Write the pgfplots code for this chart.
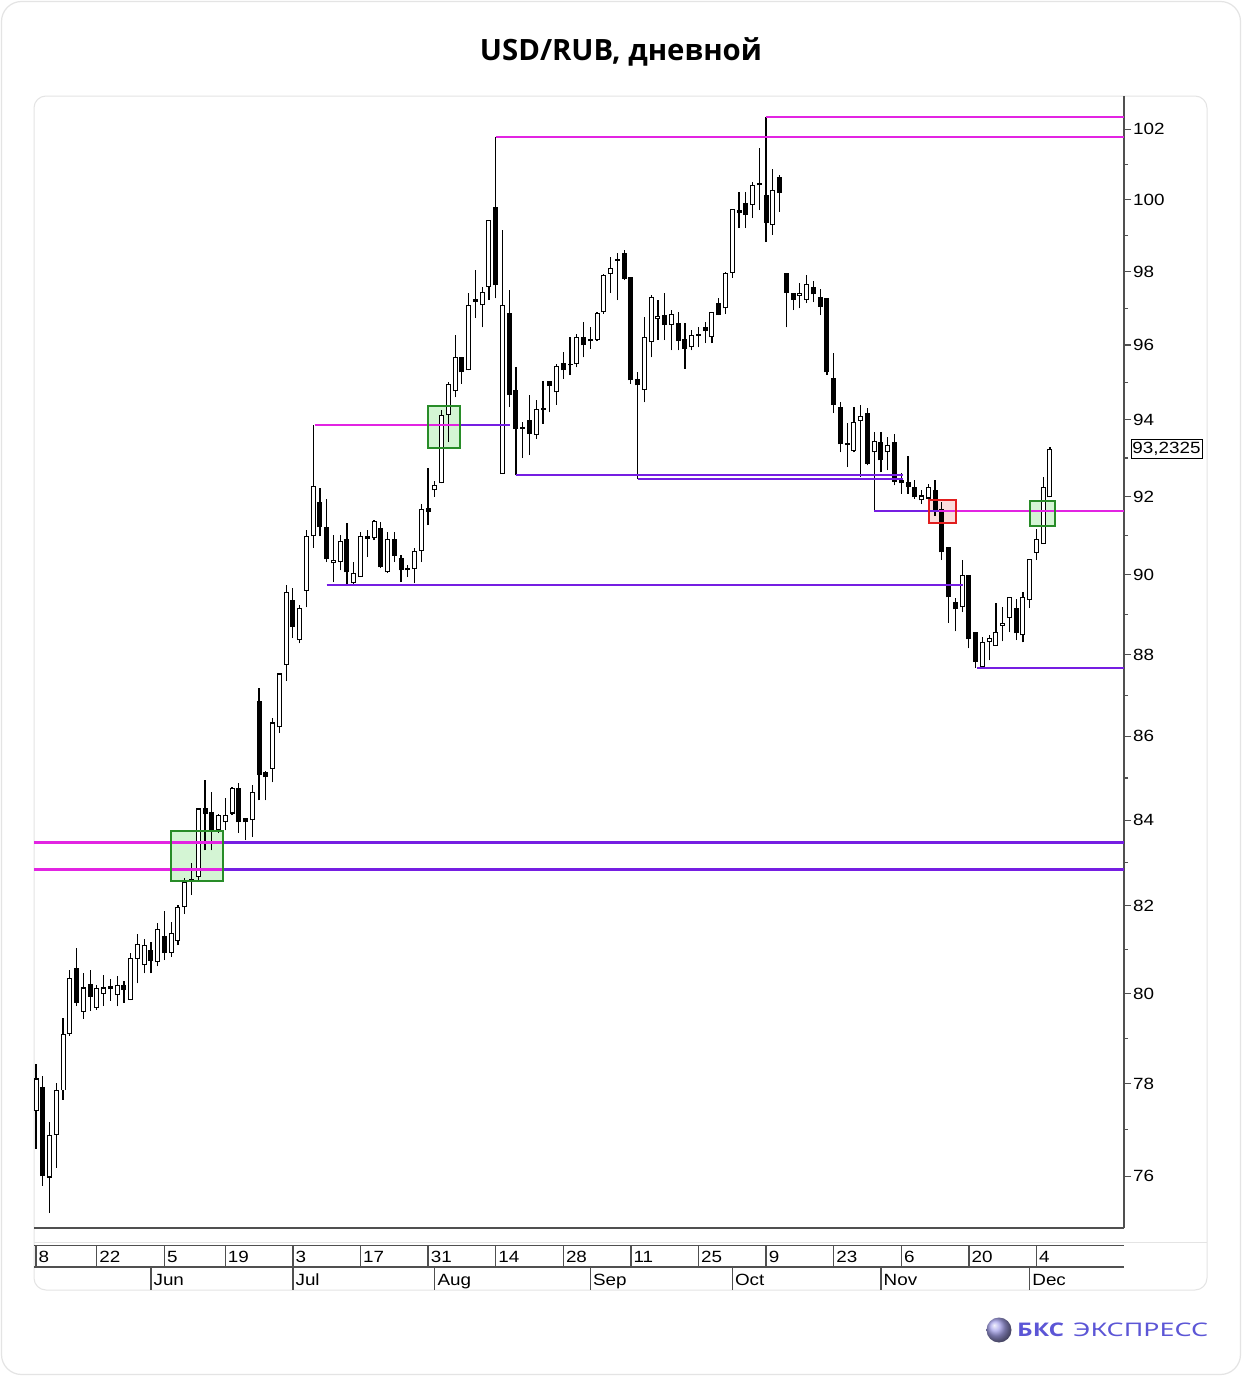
\documentclass[border=0pt]{standalone}
\usepackage{fontspec}
\usepackage{graphicx}
\usepackage{pgfplots}
\usepackage{pgfplotstable}
\pgfplotsset{compat=1.18}
\setmainfont{Liberation Sans}
\newfontfamily\titlefont{Open Sans}
\newfontfamily\logofont{Noto Sans}
\definecolor{cardc}{RGB}{228,228,228}
\definecolor{axisc}{RGB}{80,80,80}
\definecolor{magL}{RGB}{226,36,226}
\definecolor{purL}{RGB}{118,30,226}
\definecolor{gborder}{RGB}{40,140,40}
\definecolor{gfill}{RGB}{212,245,212}
\definecolor{rborder}{RGB}{225,30,30}
\definecolor{rfill}{RGB}{250,220,220}
\definecolor{logoc}{RGB}{92,86,214}
\newcommand{\sx}[1]{\scalebox{1.16}[1]{#1}}
\newcommand{\lblfont}{\fontsize{16.3}{18}\selectfont}

\pgfplotstableread{
i O H L C
0 77.42 78.45 76.60 78.14
2 75.98 77.17 75.22 76.88
3 76.90 78.03 76.19 77.88
4 77.86 79.47 77.66 79.11
5 79.11 80.53 79.07 80.35
7 79.61 80.48 79.45 80.14
9 79.70 80.20 79.65 80.12
10 80.00 80.43 79.74 80.14
12 79.98 80.39 79.72 80.19
14 79.87 80.92 79.87 80.80
15 80.78 81.35 80.23 81.12
16 80.65 81.24 80.46 81.10
18 80.71 81.60 80.62 81.46
20 80.92 81.62 80.83 81.37
21 81.19 82.02 81.10 81.97
22 81.97 82.65 81.81 82.55
24 82.67 84.30 82.60 84.28
27 83.76 84.15 83.70 84.12
28 83.95 84.54 83.76 84.12
29 84.16 84.78 84.12 84.76
32 84.00 84.83 83.60 84.66
35 85.22 86.46 84.90 86.34
36 86.22 87.54 86.08 87.54
37 87.74 89.73 87.35 89.56
39 88.36 89.23 88.28 89.16
40 89.59 91.13 89.18 90.98
41 90.98 93.87 90.68 92.27
44 90.29 91.01 89.81 90.37
45 90.32 91.01 90.11 90.86
47 89.78 90.32 89.73 90.04
48 89.94 91.08 89.94 90.98
50 90.93 91.39 90.88 91.36
52 90.06 91.08 90.04 90.91
56 90.14 90.68 89.78 90.60
57 90.60 91.82 90.32 91.69
59 92.16 92.40 92.00 92.29
60 92.34 94.26 92.34 94.13
61 94.13 95.00 93.42 94.97
62 94.76 96.27 94.60 95.67
64 95.32 97.41 95.32 97.08
66 97.08 97.58 96.48 97.44
67 97.58 99.44 97.22 99.44
69 92.58 99.16 92.58 97.08
74 93.60 94.52 93.50 94.29
75 94.26 95.03 93.90 94.29
77 94.73 95.50 94.40 95.43
80 95.48 96.30 95.40 96.21
83 96.13 96.90 96.10 96.86
84 96.89 97.95 96.85 97.91
85 97.94 98.41 97.41 98.10
90 94.79 96.75 94.47 96.21
91 96.08 97.36 95.67 97.30
92 96.70 97.22 96.13 96.78
94 96.54 96.95 95.86 96.84
97 95.94 96.40 95.86 96.27
100 96.21 96.89 96.05 96.89
102 97.00 98.00 96.84 97.97
103 97.97 99.74 97.83 99.74
106 99.85 100.50 99.49 100.41
109 99.29 100.87 99.02 100.27
113 97.33 97.69 97.00 97.41
114 97.22 97.91 97.14 97.66
121 93.18 94.34 93.15 93.95
122 93.97 94.39 92.50 94.10
124 93.15 93.68 91.62 93.44
126 93.15 93.55 92.68 93.34
131 91.90 92.16 91.82 92.03
132 91.95 92.32 91.90 92.26
137 89.18 90.37 89.06 89.99
140 87.69 88.43 87.69 88.31
141 88.31 88.48 87.86 88.41
142 88.21 89.28 88.21 88.56
143 88.71 89.18 88.33 88.78
144 88.91 89.43 88.56 89.43
146 88.48 89.56 88.31 89.43
147 89.36 90.39 89.16 90.39
148 90.55 91.16 90.37 90.91
149 90.78 92.50 90.78 92.26
150 91.98 93.29 91.98 93.23
}\upc

\pgfplotstableread{
i O H L C
1 77.95 78.19 75.81 76.00
6 80.57 81.03 79.74 79.81
8 80.21 80.53 79.63 79.94
11 80.17 80.34 79.85 80.10
13 80.19 80.28 79.81 80.08
17 80.99 81.17 80.46 80.74
19 81.30 81.88 80.76 80.92
23 82.62 83.00 82.25 82.58
25 84.28 84.95 83.29 84.14
26 84.19 84.66 83.29 83.76
30 84.76 84.88 83.71 83.95
31 84.05 84.05 83.53 83.95
33 86.86 87.17 84.47 85.07
34 85.14 85.17 84.47 85.02
38 89.36 89.66 88.41 88.69
42 91.87 92.21 90.98 91.21
43 91.21 91.95 90.32 90.39
46 90.91 91.31 89.73 90.06
49 90.98 91.13 90.45 90.91
51 91.18 91.34 90.17 90.19
53 90.91 91.08 90.32 90.47
54 90.42 90.50 89.81 90.11
55 90.16 90.24 89.94 90.11
58 91.70 92.73 91.26 91.60
63 95.67 95.67 94.97 95.27
65 97.25 98.05 96.73 97.17
68 99.79 101.78 97.27 97.63
70 96.86 97.49 94.34 94.66
71 94.81 95.40 92.55 93.76
72 93.80 93.95 93.00 93.76
73 94.00 94.66 93.08 93.63
76 95.03 95.03 94.20 94.90
78 95.51 95.81 95.10 95.32
79 95.50 96.21 95.19 95.45
81 96.21 96.62 95.67 95.99
82 96.16 96.50 95.90 96.10
86 98.35 98.52 97.22 98.30
87 98.52 98.60 97.77 97.80
88 97.86 97.86 94.97 95.05
89 95.08 95.27 92.45 94.92
93 96.81 97.41 96.13 96.54
95 96.59 96.89 95.86 96.10
96 96.16 96.59 95.37 95.89
98 96.30 96.48 95.94 96.25
99 96.48 96.62 96.05 96.37
101 97.14 97.27 96.81 96.81
104 99.71 100.21 99.21 99.63
105 99.90 100.21 99.21 99.57
107 100.44 101.46 99.71 100.41
108 100.13 102.35 98.82 99.35
110 100.64 100.70 99.66 100.19
111 97.97 97.97 96.48 97.41
112 97.41 97.41 96.95 97.22
115 97.58 97.74 97.16 97.38
116 97.30 97.52 96.81 97.03
117 97.27 97.27 95.19 95.27
118 95.13 95.78 94.18 94.39
119 94.34 94.47 93.15 93.36
120 93.39 93.92 92.76 93.34
123 94.18 94.31 92.81 92.84
125 93.42 93.68 92.63 92.94
127 93.42 93.63 92.29 92.39
128 92.42 92.60 92.08 92.34
129 92.39 93.05 92.08 92.24
130 92.26 92.42 91.95 91.98
133 92.16 92.42 91.50 91.64
134 91.69 91.85 90.37 90.57
135 90.70 90.70 88.79 89.43
136 89.31 89.41 88.58 89.13
138 89.99 89.99 88.16 88.38
139 88.56 88.56 87.67 87.82
145 89.16 89.38 88.36 88.53
}\dnc

\begin{document}
\begin{tikzpicture}
\useasboundingbox (0,0) rectangle (1242bp,-1376bp);
\begin{scope}[x=1bp,y=-1bp]
\fill[white] (0,0) rectangle (1242,1376);
\draw[cardc, line width=1.2bp, rounded corners=20bp] (1.5,1.5) rectangle (1240.5,1374.5);
\draw[cardc, line width=1bp, rounded corners=12bp] (34,96) rectangle (1207,1290);
\node[anchor=base, inner sep=0pt] at (621,61) {\resizebox{282bp}{!}{\titlefont\bfseries USD/RUB, дневной}};
% date strip
\draw[cardc, line width=1bp] (34,1242) -- (1207,1242);
\draw[axisc, line width=1.3bp] (34,1245.5) -- (1124,1245.5);
\draw[axisc, line width=1.3bp] (34,1267) -- (1124,1267);
\foreach \x/\t in {36/8, 96.8/22, 164.4/5, 225.3/19, 292.9/3, 360.5/17, 428.1/31, 495.7/14, 563.3/28, 630.9/11, 698.5/25, 766.1/9, 833.7/23, 901.3/6, 968.9/20, 1036.5/4}{
  \draw[axisc, line width=1.3bp] (\x,1245.5) -- (\x,1267);
  \node[anchor=base west, inner sep=0pt, font=\lblfont] at (\x+2.5,1262) {\sx{\t}};
}
\foreach \x/\t in {150.9/Jun, 292.9/Jul, 434.8/Aug, 590.3/Sep, 732.3/Oct, 881/Nov, 1029.7/Dec}{
  \draw[axisc, line width=1.3bp] (\x,1267) -- (\x,1290);
  \node[anchor=base west, inner sep=0pt, font=\lblfont] at (\x+2.5,1285.5) {\sx{\t}};
}
% logo
\shade[ball color=logoc!55!white] (999,1330) circle (12.5);
\node[anchor=base west, inner sep=0pt, text=logoc] at (1017,1336) {\resizebox{47bp}{13.6bp}{\titlefont\bfseries БКС}};
\node[anchor=base west, inner sep=0pt, text=logoc] at (1073,1336) {\resizebox{135bp}{13.6bp}{\logofont ЭКСПРЕСС}};
\end{scope}

\begin{axis}[
  at={(34bp,-96bp)}, anchor=north west,
  scale only axis, width=1090bp, height=1132bp,
  xmin=-0.3, xmax=160.95, ymin=4.316154, ymax=4.634341,
  y filter/.expression={ln(y)},
  axis x line*=bottom, axis y line*=right,
  axis line style={draw=axisc, line width=1.4bp},
  xtick=\empty,
  ytick={4.330733,4.356709,4.382027,4.406719,4.430817,4.454347,4.477337,4.499810,4.521789,4.543295,4.564348,4.584967,4.605170,4.624973},
  yticklabels={\sx{76},\sx{78},\sx{80},\sx{82},\sx{84},\sx{86},\sx{88},\sx{90},\sx{92},\sx{94},\sx{96},\sx{98},\sx{100},\sx{102}},
  minor ytick={4.343805,4.369448,4.394449,4.418841,4.442651,4.465908,4.488636,4.510860,4.532599,4.553877,4.574711,4.595120,4.615121},
  tick align=outside,
  major tick length=7bp, minor tick length=4bp,
  every tick/.style={draw=axisc, line width=1.1bp},
  yticklabel style={font=\lblfont, anchor=west, inner sep=0pt, xshift=2bp},
  clip=true,
]
% box fills
\addplot[draw=none, fill=gfill] coordinates {(19.97,83.74) (27.66,83.74) (27.66,82.57) (19.97,82.57) (19.97,83.74)};
\addplot[draw=none, fill=gfill] coordinates {(57.99,94.36) (62.72,94.36) (62.72,93.26) (57.99,93.26) (57.99,94.36)};
\addplot[draw=none, fill=gfill] coordinates {(147.04,91.88) (150.74,91.88) (150.74,91.23) (147.04,91.23) (147.04,91.88)};
\addplot[draw=none, fill=rfill] coordinates {(132.1,91.90) (136.1,91.90) (136.1,91.31) (132.1,91.31) (132.1,91.90)};
% wicks
\addplot[draw=none, mark=none, error bars/.cd, y dir=plus, y explicit, error mark=none, error bar style={draw=black, line width=1.2bp, solid}]
  table[x=i, y=L, y error plus expr={ln(\thisrow{H})-ln(\thisrow{L})}] {\upc};
\addplot[draw=none, mark=none, error bars/.cd, y dir=plus, y explicit, error mark=none, error bar style={draw=black, line width=1.2bp, solid}]
  table[x=i, y=L, y error plus expr={ln(\thisrow{H})-ln(\thisrow{L})}] {\dnc};
% bodies
\addplot[draw=none, mark=none, error bars/.cd, y dir=plus, y explicit, error mark=none, error bar style={draw=black, line width=5bp, solid, line cap=butt}]
  table[x=i, y=C, y error plus expr={max(ln(\thisrow{O})-ln(\thisrow{C}),0.0005)}] {\dnc};
\addplot[draw=none, mark=none, error bars/.cd, y dir=plus, y explicit, error mark=none, error bar style={draw=black, line width=5bp, solid, line cap=butt}]
  table[x=i, y=O, y error plus expr={max(ln(\thisrow{C})-ln(\thisrow{O}),0.0005)}] {\upc};
\addplot[draw=none, mark=none, error bars/.cd, y dir=plus, y explicit, error mark=none, error bar style={draw=white, line width=3bp, solid, line cap=butt}]
  table[x=i, y expr=\thisrow{O}*1.00031, y error plus expr={max(ln(\thisrow{C})-ln(\thisrow{O})-0.00062,0)}] {\upc};
% levels
\addplot[magL, line width=2bp] coordinates {(108,102.35) (160.95,102.35)};
\addplot[magL, line width=2bp] coordinates {(68,101.78) (160.95,101.78)};
\addplot[magL, line width=2bp] coordinates {(41.2,93.87) (62.7,93.87)};
\addplot[purL, line width=2bp] coordinates {(62.7,93.87) (70.1,93.87)};
\addplot[purL, line width=2bp] coordinates {(71,92.55) (128.3,92.55)};
\addplot[purL, line width=2bp] coordinates {(89,92.45) (128.3,92.45)};
\addplot[purL, line width=2bp] coordinates {(124,91.62) (133.6,91.62)};
\addplot[magL, line width=2bp] coordinates {(133.6,91.62) (160.95,91.62)};
\addplot[purL, line width=2bp] coordinates {(43.0,89.73) (137.1,89.73)};
\addplot[purL, line width=2bp] coordinates {(139.2,87.67) (160.95,87.67)};
\addplot[magL, line width=3.3bp] coordinates {(-0.3,83.48) (27.6,83.48)};
\addplot[purL, line width=3.3bp] coordinates {(27.6,83.48) (160.95,83.48)};
\addplot[magL, line width=3.3bp] coordinates {(-0.3,82.85) (27.6,82.85)};
\addplot[purL, line width=3.3bp] coordinates {(27.6,82.85) (160.95,82.85)};
% box borders
\addplot[gborder, line width=2bp] coordinates {(19.97,83.74) (27.66,83.74) (27.66,82.57) (19.97,82.57) (19.97,83.74) (27.66,83.74)};
\addplot[gborder, line width=2bp] coordinates {(57.99,94.36) (62.72,94.36) (62.72,93.26) (57.99,93.26) (57.99,94.36) (62.72,94.36)};
\addplot[gborder, line width=2bp] coordinates {(147.04,91.88) (150.74,91.88) (150.74,91.23) (147.04,91.23) (147.04,91.88) (150.74,91.88)};
\addplot[rborder, line width=2bp] coordinates {(132.1,91.90) (136.1,91.90) (136.1,91.31) (132.1,91.31) (132.1,91.90) (136.1,91.90)};
\coordinate (lastp) at (axis cs:160.95,4.535096);
\end{axis}
\node[draw=black, line width=0.9bp, anchor=west, inner xsep=1.5bp, inner ysep=3bp, font=\lblfont] at ([xshift=6.5bp]lastp) {\sx{93,2325}};
\end{tikzpicture}
\end{document}
